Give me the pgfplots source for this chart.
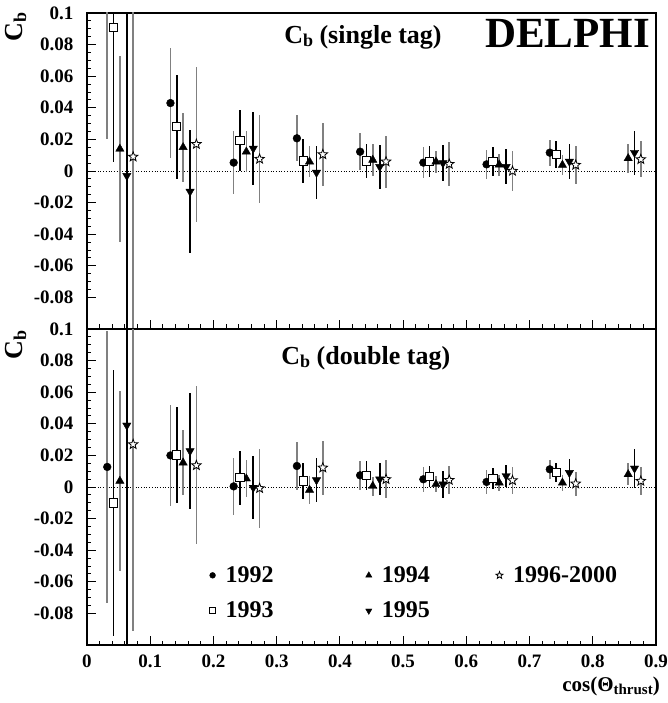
\documentclass[border=0pt]{standalone}
\usepackage{pgfplots}
\usepackage{pgfplotstable}
\pgfplotsset{compat=1.18}
\usepackage{fontspec}
\setmainfont{Liberation Serif}

\pgfdeclareplotmark{ostar}{%
  \pgfpathmoveto{\pgfpointpolar{90}{\pgfplotmarksize}}%
  \pgfpathlineto{\pgfpointpolar{126}{0.42\pgfplotmarksize}}%
  \pgfpathlineto{\pgfpointpolar{162}{\pgfplotmarksize}}%
  \pgfpathlineto{\pgfpointpolar{198}{0.42\pgfplotmarksize}}%
  \pgfpathlineto{\pgfpointpolar{234}{\pgfplotmarksize}}%
  \pgfpathlineto{\pgfpointpolar{270}{0.42\pgfplotmarksize}}%
  \pgfpathlineto{\pgfpointpolar{306}{\pgfplotmarksize}}%
  \pgfpathlineto{\pgfpointpolar{342}{0.42\pgfplotmarksize}}%
  \pgfpathlineto{\pgfpointpolar{18}{\pgfplotmarksize}}%
  \pgfpathlineto{\pgfpointpolar{54}{0.42\pgfplotmarksize}}%
  \pgfpathclose
  \pgfusepathqfillstroke
}

% ---- single tag ----
\pgfplotstableread{
x y e
0.032 0.12 0.10
0.132 0.043 0.035
0.232 0.0053 0.020
0.332 0.0207 0.0145
0.432 0.0122 0.0118
0.532 0.0053 0.010
0.632 0.0042 0.009
0.732 0.0116 0.0083
}\sA
\pgfplotstableread{
x y e
0.042 0.091 0.085
0.142 0.028 0.033
0.242 0.0194 0.0195
0.342 0.0063 0.014
0.442 0.0063 0.011
0.542 0.0059 0.010
0.642 0.006 0.009
0.742 0.0105 0.0085
}\sB
\pgfplotstableread{
x y e
0.052 0.014 0.059
0.152 0.015 0.022
0.252 0.0122 0.013
0.352 0.0059 0.010
0.452 0.0070 0.010
0.552 0.0059 0.007
0.652 0.004 0.007
0.752 0.0038 0.0065
0.856 0.008 0.009
}\sC
\pgfplotstableread{
x y e
0.063 -0.003 0.15
0.163 -0.013 0.039
0.263 0.0143 0.023
0.363 -0.001 0.017
0.463 0.0027 0.014
0.563 0.005 0.0116
0.663 0.0027 0.011
0.763 0.006 0.011
0.866 0.0116 0.014
}\sD
\pgfplotstableread{
x y e
0.073 0.009 0.15
0.173 0.017 0.049
0.273 0.0076 0.028
0.373 0.0105 0.020
0.473 0.0059 0.0165
0.573 0.0044 0.014
0.673 0.0 0.0125
0.773 0.0038 0.012
0.876 0.0074 0.0115
}\sE
% ---- double tag ----
\pgfplotstableread{
x y e
0.032 0.0127 0.086
0.132 0.020 0.032
0.232 0.0004 0.018
0.332 0.0133 0.015
0.432 0.0074 0.009
0.532 0.0049 0.008
0.632 0.0032 0.0075
0.732 0.0112 0.006
}\dA
\pgfplotstableread{
x y e
0.042 -0.0101 0.084
0.142 0.0203 0.0305
0.242 0.0059 0.017
0.342 0.0038 0.0116
0.442 0.0074 0.009
0.542 0.0065 0.0068
0.642 0.0055 0.0065
0.742 0.009 0.006
}\dB
\pgfplotstableread{
x y e
0.052 0.0038 0.057
0.152 0.0154 0.0205
0.252 0.0053 0.0115
0.352 -0.0019 0.009
0.452 0.0006 0.006
0.552 0.0017 0.005
0.652 0.0027 0.005
0.752 0.0027 0.005
0.856 0.008 0.007
}\dC
\pgfplotstableread{
x y e
0.063 0.039 0.15
0.163 0.0228 0.037
0.263 -0.0004 0.020
0.363 0.0044 0.014
0.463 0.0049 0.010
0.563 0.0017 0.0085
0.663 0.007 0.007
0.763 0.009 0.009
0.866 0.0118 0.0125
}\dD
\pgfplotstableread{
x y e
0.073 0.027 0.118
0.173 0.0137 0.050
0.273 -0.0008 0.025
0.373 0.0122 0.017
0.473 0.0049 0.012
0.573 0.0044 0.009
0.673 0.0042 0.0085
0.773 0.0021 0.0076
0.876 0.0038 0.0086
}\dE

\newcommand{\Cb}{C\raisebox{-0.3ex}{\fontsize{18}{18}\selectfont b}}

\pgfplotsset{
  cbaxis/.style={
    scale only axis, width=569pt, height=316pt,
    xmin=0, xmax=0.9, ymin=-0.1, ymax=0.1,
    clip mode=individual,
    tick pos=left, tick align=inside,
    axis line style={line width=1.5pt},
    major tick length=9pt, minor tick length=4.5pt,
    every tick/.style={black, line width=0.9pt},
    xtick={0,0.1,0.2,0.3,0.4,0.5,0.6,0.7,0.8,0.9},
    ytick={-0.08,-0.06,-0.04,-0.02,0,0.02,0.04,0.06,0.08,0.1},
    yticklabels={-0.08,-0.06,-0.04,-0.02,0,0.02,0.04,0.06,0.08,0.1},
    minor x tick num=4, minor y tick num=3,
    tick label style={font=\bfseries\fontsize{19}{19}\selectfont},
    yticklabel style={xshift=-10pt},
    xticklabel style={yshift=-6pt},
    ylabel={\Cb},
    ylabel style={at={(axis description cs:-0.125,0.955)}, anchor=center,
      inner sep=0pt, font=\bfseries\fontsize{26}{26}\selectfont},
  },
  errb/.style={error bars/.cd, y dir=both, y explicit, error mark=none,
    error bar style={line width=1.6pt, #1}},
  pA/.style={only marks, mark=*, mark size=3.9pt, black, errb=gray},
  pB/.style={only marks, mark=square*, mark size=4.1pt, black, mark options={fill=white, line width=0.9pt}, errb=black},
  pC/.style={only marks, mark=triangle*, mark size=4.8pt, black, errb=gray},
  pD/.style={only marks, mark=triangle*, mark size=4.8pt, black, mark options={rotate=180}, errb=black},
  pE/.style={only marks, mark=ostar, mark size=5pt, black, mark options={fill=white, line width=0.8pt}, errb=gray},
  zline/.style={black, dotted, line width=0.7pt, forget plot},
}

\begin{document}
\begin{tikzpicture}
\begin{axis}[cbaxis, name=top, at={(0pt,0pt)}, anchor=north west, xticklabels={}]
\addplot[zline] coordinates {(0,0) (0.9,0)};
\addplot[pA] table[x=x,y=y,y error=e] {\sA};
\addplot[pB] table[x=x,y=y,y error=e] {\sB};
\addplot[pC] table[x=x,y=y,y error=e] {\sC};
\addplot[pD] table[x=x,y=y,y error=e] {\sD};
\addplot[pE] table[x=x,y=y,y error=e] {\sE};
\node[anchor=base, font=\bfseries\fontsize{26}{26}\selectfont] at (axis description cs:0.485,0.905) {\Cb{} (single tag)};
\node[anchor=base east, font=\bfseries\fontsize{43}{43}\selectfont, inner sep=0pt] at (axis description cs:0.99,0.892) {DELPHI};
\end{axis}

\begin{axis}[cbaxis, name=bot, at={(0pt,-316pt)}, anchor=north west,
  xticklabels={0,0.1,0.2,0.3,0.4,0.5,0.6,0.7,0.8,0.9},
  ylabel style={at={(axis description cs:-0.125,0.95)}},
  legend columns=3,
  legend cell align=left,
  legend image post style={scale=0.75},
  legend style={draw=none, fill=none, inner sep=0pt, at={(0.215,0.255)}, anchor=north west,
    font=\bfseries\fontsize{24}{24}\selectfont, row sep=14pt,
    /tikz/every odd column/.append style={column sep=8pt}}]
\addplot[zline] coordinates {(0,0) (0.9,0)};
\addplot[pA] table[x=x,y=y,y error=e] {\dA};
\addlegendentry{\makebox[138pt][l]{1992}}
\addplot[pC] table[x=x,y=y,y error=e] {\dC};
\addlegendentry{\makebox[112pt][l]{1994}}
\addplot[pE] table[x=x,y=y,y error=e] {\dE};
\addlegendentry{1996-2000}
\addplot[pB] table[x=x,y=y,y error=e] {\dB};
\addlegendentry{\makebox[138pt][l]{1993}}
\addplot[pD] table[x=x,y=y,y error=e] {\dD};
\addlegendentry{\makebox[112pt][l]{1995}}
\node[anchor=base, font=\bfseries\fontsize{26}{26}\selectfont] at (axis description cs:0.49,0.889) {\Cb{} (double tag)};
\node[anchor=base east, font=\bfseries\fontsize{21}{21}\selectfont, inner sep=0pt] at (axis description cs:1.007,-0.146) {cos(Θ\raisebox{-0.35ex}{\fontsize{15}{15}\selectfont thrust})};
\end{axis}
\pgfresetboundingbox
\path[use as bounding box] (-87pt,13pt) rectangle (580pt,-690pt);
\end{tikzpicture}
\end{document}
